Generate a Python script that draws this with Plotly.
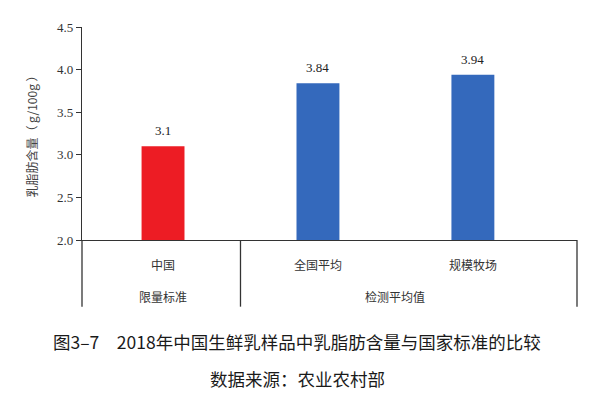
import plotly.graph_objects as go

categories = ["中国", "全国平均", "规模牧场"]
groups = ["限量标准", "检测平均值"]
group_members = [["中国"], ["全国平均", "规模牧场"]]
fat_values = [3.1, 3.84, 3.94]
value_labels = ["3.1", "3.84", "3.94"]
bar_colors = ["#ED1C24", "#3469BC", "#3469BC"]
y_ticks = [2.0, 2.5, 3.0, 3.5, 4.0, 4.5]

serif = "Liberation Serif, Times New Roman, serif"
cjk = "Noto Sans CJK SC, sans-serif"
line_col = "#333333"

fig = go.Figure()

fig.add_trace(go.Bar(
    x=categories,
    y=fat_values,
    marker=dict(color=bar_colors, line=dict(width=0)),
    width=0.277,
))

# value labels sit a bit higher above the bars than plotly's default text
for c, v, lab in zip(categories, fat_values, value_labels):
    fig.add_annotation(x=c, y=v, xref="x", yref="y", text=lab, showarrow=False,
                       yanchor="bottom", yshift=6,
                       font=dict(family=serif, size=13, color="#222222"))

# the page body adds an 8px offset, so margins are shifted to compensate
fig.update_layout(
    width=595,
    height=400,
    margin=dict(l=74, r=26, t=15, b=168),
    paper_bgcolor="white",
    plot_bgcolor="white",
    showlegend=False,
    xaxis=dict(
        type="category",
        range=[-0.523, 2.672],
        showticklabels=False,
        ticks="",
        showgrid=False,
        showline=True,
        linecolor=line_col,
        linewidth=1.3,
        zeroline=False,
    ),
    yaxis=dict(
        range=[2.0, 4.5],
        tickvals=y_ticks,
        ticktext=["%.1f" % v for v in y_ticks],
        ticks="outside",
        ticklen=5,
        tickcolor=line_col,
        tickfont=dict(family=serif, size=13, color="#333333"),
        showgrid=False,
        showline=True,
        linecolor=line_col,
        linewidth=1.3,
        zeroline=False,
        title=dict(text="乳脂肪含量（ g/100g ）",
                   font=dict(family=cjk, size=12, color="#444444"),
                   standoff=16),
    ),
)

# lower category/group frame
bottom = -0.313
fig.add_shape(type="line", xref="paper", yref="paper", x0=0, x1=0, y0=0, y1=bottom,
              line=dict(color=line_col, width=1.3))
fig.add_shape(type="line", xref="paper", yref="paper", x0=1, x1=1, y0=0, y1=bottom,
              line=dict(color=line_col, width=1.3))
fig.add_shape(type="line", xref="x", yref="paper", x0=0.5, x1=0.5, y0=0, y1=bottom,
              line=dict(color=line_col, width=1.3))

for c in categories:
    fig.add_annotation(x=c, y=-0.115, xref="x", yref="paper", text=c, showarrow=False,
                       yanchor="middle",
                       font=dict(family=cjk, size=12, color="#333333"))

for g, members in zip(groups, group_members):
    idx = [categories.index(m) for m in members]
    fig.add_annotation(x=sum(idx) / len(idx), y=-0.265, xref="x", yref="paper", text=g,
                       showarrow=False, yanchor="middle",
                       font=dict(family=cjk, size=12, color="#333333"))

fig.add_annotation(x=0.435, y=-0.475, xref="paper", yref="paper",
                   text="图3–7　2018年中国生鲜乳样品中乳脂肪含量与国家标准的比较",
                   showarrow=False, yanchor="middle",
                   font=dict(family=cjk, size=17.5, color="#1a1a1a"))
fig.add_annotation(x=0.435, y=-0.65, xref="paper", yref="paper",
                   text="数据来源：农业农村部",
                   showarrow=False, yanchor="middle",
                   font=dict(family=cjk, size=17.5, color="#1a1a1a"))

fig.write_html("out.html")
